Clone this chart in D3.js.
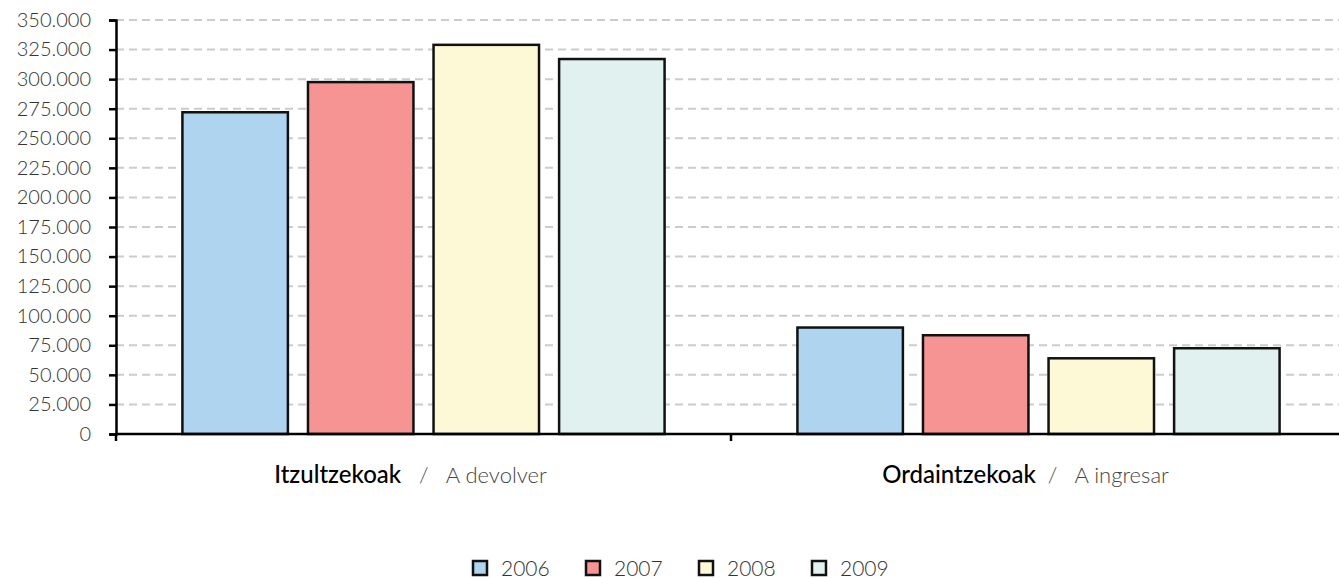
<!DOCTYPE html>
<html><head><meta charset="utf-8">
<script src="https://cdn.jsdelivr.net/npm/d3@7"></script>
<style>body{margin:0;background:#fff;font-family:Lato,"Open Sans",sans-serif;}</style>
</head><body><svg id="c" width="1339" height="578"></svg>
<script>
const categories = ["Itzultzekoak", "Ordaintzekoak"];
const categorySub = ["A devolver", "A ingresar"];
const years = ["2006", "2007", "2008", "2009"];
const v2006 = [272000, 90000];
const v2007 = [297500, 83500];
const v2008 = [329000, 64000];
const v2009 = [317000, 72500];
const yTicks = [0,25000,50000,75000,100000,125000,150000,175000,200000,225000,250000,275000,300000,325000,350000];
const colors = ["#aed4f0", "#f69494", "#fdf9d7", "#e1f1f0"];
const series = [v2006, v2007, v2008, v2009];

const svg = d3.select("#c");
const m = {l:116, r:-7, t:20, b:144};
const W = 1339, H = 578;
const iw = W - m.l - m.r, ih = H - m.t - m.b;
const g = svg.append("g").attr("transform", `translate(${m.l},${m.t})`);

const y = d3.scaleLinear().domain([0,350000]).range([ih,0]);
const x0 = d3.scaleBand().domain(categories).range([0, iw]).padding(0);
const bw = x0.bandwidth();
const x1 = d3.scaleBand().domain(years).range([bw*0.108, bw*0.892]).paddingInner(0.16);

const fmt = d => d === 0 ? "0" : d3.format(",")(d).replace(/,/g, ".");

// grid
g.append("g").selectAll("line").data(yTicks.filter(d=>d>0)).join("line")
  .attr("x1",0).attr("x2",iw).attr("y1",d=>y(d)).attr("y2",d=>y(d))
  .attr("stroke","#cccccc").attr("stroke-width",2).attr("stroke-dasharray","8,5");

// bars
const cg = g.selectAll(".cat").data(categories).join("g").attr("transform", d=>`translate(${x0(d)},0)`);
cg.selectAll("rect").data((d,i)=>years.map((yr,j)=>({yr, v: series[j][i], c: colors[j]}))).join("rect")
  .attr("x", d=>x1(d.yr)).attr("width", x1.bandwidth())
  .attr("y", d=>y(d.v)).attr("height", d=>ih - y(d.v))
  .attr("fill", d=>d.c).attr("stroke","#111").attr("stroke-width",2.5);

// y axis
const ya = g.append("g").call(d3.axisLeft(y).tickValues(yTicks).tickFormat(fmt).tickSize(7).tickPadding(18));
ya.select(".domain").attr("stroke","#000").attr("stroke-width",2.5);
ya.selectAll(".tick line").attr("stroke","#000").attr("stroke-width",2.5);
ya.selectAll(".tick text").attr("font-family","Lato, sans-serif").attr("font-size",20).attr("fill","#333").attr("font-weight",300);

// x axis
const xa = g.append("g").attr("transform",`translate(0,${ih})`);
xa.append("line").attr("x1",0).attr("x2",iw).attr("stroke","#000").attr("stroke-width",2.5);
xa.selectAll(".t").data([0, bw]).join("line").attr("x1",d=>d).attr("x2",d=>d).attr("y1",0).attr("y2",7)
  .attr("stroke","#000").attr("stroke-width",2.5);

// category labels
categories.forEach((c,i)=>{
  const t = xa.append("text").attr("x", x0(c)+bw/2-13).attr("y", 49).attr("text-anchor","middle")
    .attr("font-family","Lato, sans-serif").attr("font-size",22);
  t.append("tspan").attr("fill","#000").attr("font-weight",500).attr("font-size",24).text(c);
  t.append("tspan").attr("fill","#444").attr("font-weight",300).attr("xml:space","preserve").text(i===0 ? "   /   " + categorySub[i] : "  /   " + categorySub[i]);
});

// legend
const lg = svg.append("g").attr("transform","translate(473,561)");
const li = lg.selectAll("g").data(years).join("g").attr("transform",(d,i)=>`translate(${i*113},0)`);
li.append("rect").attr("width",14).attr("height",14).attr("fill",(d,i)=>colors[i]).attr("stroke","#111").attr("stroke-width",2.5);
li.append("text").attr("x",28).attr("y",14.5).text(d=>d).attr("font-family","Lato, sans-serif").attr("font-size",21).attr("font-weight",300).attr("fill","#333");
</script></body></html>
